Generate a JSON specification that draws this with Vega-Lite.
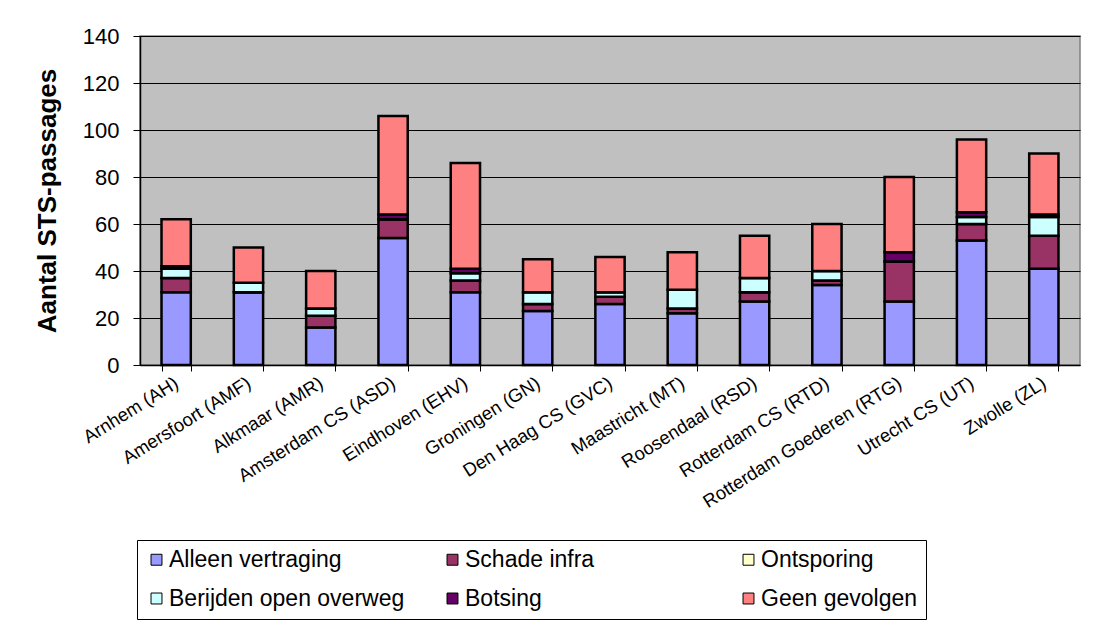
{
  "$schema": "https://vega.github.io/schema/vega-lite/v6.json",
  "width": 940,
  "height": 329,
  "autosize": {"type": "none"},
  "padding": {"left": 140, "top": 36, "right": 23, "bottom": 260},
  "background": "white",
  "config": {
    "font": "Liberation Sans",
    "view": {"fill": "#C0C0C0", "stroke": "#808080", "strokeWidth": 1.5},
    "axis": {"labelFont": "Liberation Sans", "titleFont": "Liberation Sans", "labelColor": "black", "titleColor": "black", "domainColor": "black", "tickColor": "black"}
  },
  "data": {
    "values": [
      {"station": "Arnhem (AH)", "Alleen vertraging": 31, "Schade infra": 6, "Ontsporing": 0, "Berijden open overweg": 4, "Botsing": 1, "Geen gevolgen": 20},
      {"station": "Amersfoort (AMF)", "Alleen vertraging": 31, "Schade infra": 0, "Ontsporing": 0, "Berijden open overweg": 4, "Botsing": 0, "Geen gevolgen": 15},
      {"station": "Alkmaar  (AMR)", "Alleen vertraging": 16, "Schade infra": 5, "Ontsporing": 0, "Berijden open overweg": 3, "Botsing": 0, "Geen gevolgen": 16},
      {"station": "Amsterdam CS (ASD)", "Alleen vertraging": 54, "Schade infra": 8, "Ontsporing": 0, "Berijden open overweg": 0, "Botsing": 2, "Geen gevolgen": 42},
      {"station": "Eindhoven (EHV)", "Alleen vertraging": 31, "Schade infra": 5, "Ontsporing": 0, "Berijden open overweg": 3, "Botsing": 2, "Geen gevolgen": 45},
      {"station": "Groningen (GN)", "Alleen vertraging": 23, "Schade infra": 3, "Ontsporing": 0, "Berijden open overweg": 5, "Botsing": 0, "Geen gevolgen": 14},
      {"station": "Den Haag  CS (GVC)", "Alleen vertraging": 26, "Schade infra": 3, "Ontsporing": 0, "Berijden open overweg": 2, "Botsing": 0, "Geen gevolgen": 15},
      {"station": "Maastricht (MT)", "Alleen vertraging": 22, "Schade infra": 2, "Ontsporing": 0, "Berijden open overweg": 8, "Botsing": 0, "Geen gevolgen": 16},
      {"station": "Roosendaal (RSD)", "Alleen vertraging": 27, "Schade infra": 4, "Ontsporing": 0, "Berijden open overweg": 6, "Botsing": 0, "Geen gevolgen": 18},
      {"station": "Rotterdam CS (RTD)", "Alleen vertraging": 34, "Schade infra": 2, "Ontsporing": 0, "Berijden open overweg": 4, "Botsing": 0, "Geen gevolgen": 20},
      {"station": "Rotterdam Goederen (RTG)", "Alleen vertraging": 27, "Schade infra": 17, "Ontsporing": 0, "Berijden open overweg": 0, "Botsing": 4, "Geen gevolgen": 32},
      {"station": "Utrecht CS (UT)", "Alleen vertraging": 53, "Schade infra": 7, "Ontsporing": 0, "Berijden open overweg": 3, "Botsing": 2, "Geen gevolgen": 31},
      {"station": "Zwolle (ZL)", "Alleen vertraging": 41, "Schade infra": 14, "Ontsporing": 0, "Berijden open overweg": 8, "Botsing": 1, "Geen gevolgen": 26}
    ]
  },
  "transform": [
    {"fold": ["Alleen vertraging", "Schade infra", "Ontsporing", "Berijden open overweg", "Botsing", "Geen gevolgen"], "as": ["serie", "aantal"]},
    {"calculate": "indexof(['Alleen vertraging','Schade infra','Ontsporing','Berijden open overweg','Botsing','Geen gevolgen'], datum.serie)", "as": "volgorde"}
  ],
  "mark": {"type": "bar", "stroke": "black", "strokeWidth": 2.5},
  "encoding": {
    "x": {
      "field": "station", "type": "nominal", "sort": null,
      "scale": {"paddingInner": 0.595, "paddingOuter": 0.2975},
      "axis": {"title": null, "labelAngle": -32, "labelFontSize": 18.5, "labelAlign": "right", "labelBaseline": "middle", "labelPadding": 10, "tickBand": "extent", "tickSize": 6, "domainWidth": 1.5, "labelLimit": 400}
    },
    "y": {
      "field": "aantal", "type": "quantitative", "stack": "zero",
      "scale": {"domain": [0, 140], "nice": false},
      "axis": {"title": "Aantal STS-passages", "titleFontSize": 26, "titleFontWeight": "bold", "titlePadding": 22, "labelFontSize": 22, "labelPadding": 14, "tickSize": 7, "values": [0, 20, 40, 60, 80, 100, 120, 140], "grid": true, "gridColor": "black", "gridWidth": 1.2, "domainWidth": 1.5}
    },
    "color": {
      "field": "serie", "type": "nominal",
      "scale": {
        "domain": ["Alleen vertraging", "Schade infra", "Ontsporing", "Berijden open overweg", "Botsing", "Geen gevolgen"],
        "range": ["#9999FF", "#993366", "#FFFFCC", "#CCFFFF", "#660066", "#FF8080"]
      },
      "legend": {
        "title": null, "orient": "none", "legendX": -3, "legendY": 504,
        "direction": "horizontal", "columns": 3, "gridAlign": "all", "columnPadding": 36, "rowPadding": 15,
        "labelFont": "Liberation Sans", "labelFontSize": 23, "labelColor": "black", "labelLimit": 400, "labelOffset": 1,
        "symbolType": "square", "symbolSize": 120, "symbolStrokeColor": "black", "symbolStrokeWidth": 1,
        "strokeColor": "black", "fillColor": "white", "padding": 8
      }
    },
    "order": {"field": "volgorde", "type": "quantitative"}
  }
}
